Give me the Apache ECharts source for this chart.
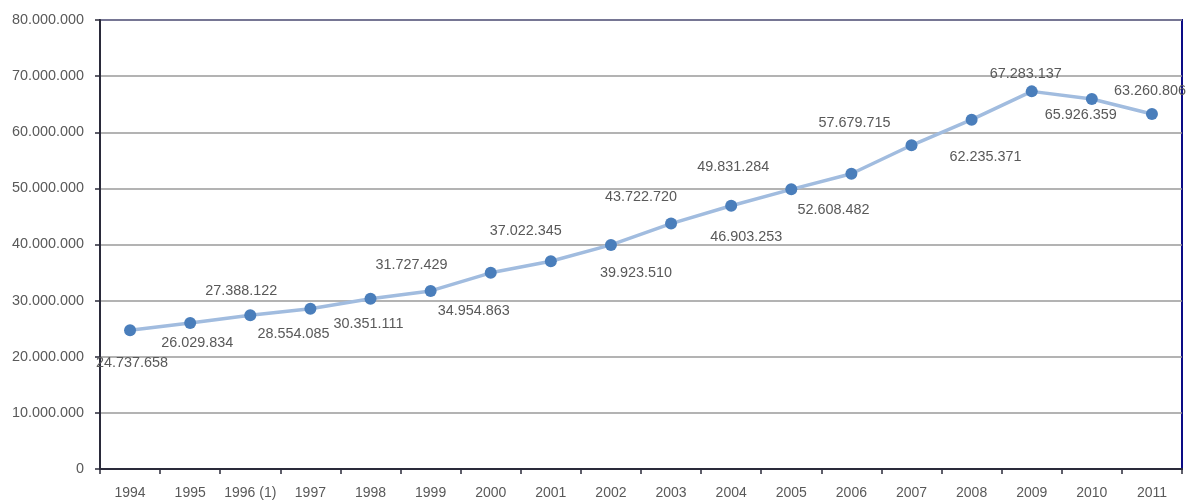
<!DOCTYPE html>
<html>
<head>
<meta charset="utf-8">
<script src="https://cdn.jsdelivr.net/npm/echarts@6/dist/echarts.min.js"></script>
<style>html,body{margin:0;padding:0;background:#fff}#c{width:1187px;height:500px}</style>
</head>
<body>
<div id="c"></div>
<script>
const categories = ['1994','1995','1996 (1)','1997','1998','1999','2000','2001','2002','2003','2004','2005','2006','2007','2008','2009','2010','2011'];
const values = [24737658,26029834,27388122,28554085,30351111,31727429,34954863,37022345,39923510,43722720,46903253,49831284,52608482,57679715,62235371,67283137,65926359,63260806];
const labelOffsets = [[2,33],[7,20],[-9,-24],[-17,25],[-2,25],[-19,-26],[-17,38],[-25,-30],[25,28],[-30,-27],[15,31],[-58,-22],[-18,36],[-57,-22],[14,37],[-6,-17],[-11,16],[-2,-23]];

function fmt(v){ return String(Math.round(v)).replace(/\B(?=(\d{3})+(?!\d))/g,'.'); }
const FONT = '"Liberation Sans", Arial, sans-serif';
const chart = echarts.init(document.getElementById('c'), null, {renderer:'canvas'});
chart.setOption({
  animation:false,
  backgroundColor:'#fff',
  grid:{left:100,right:5,top:20,bottom:31,show:true,borderColor:'#0c0c85',borderWidth:2,backgroundColor:'transparent'},
  xAxis:{
    type:'category', data:categories, boundaryGap:true,
    axisLine:{show:true,lineStyle:{color:'#2a2a3a',width:2}},
    axisTick:{show:true,interval:0,length:5,lineStyle:{color:'#2a2a3a',width:1.5}},
    axisLabel:{interval:0,color:'#595959',fontFamily:FONT,fontSize:14,margin:17}
  },
  yAxis:{
    type:'value', min:0, max:80000000, interval:10000000,
    axisLine:{show:true,lineStyle:{color:'#2a2a3a',width:2}},
    axisTick:{show:true,length:5,lineStyle:{color:'#2a2a3a',width:1.5}},
    splitLine:{show:true,lineStyle:{color:'#9a9a9a',width:1.5}},
    axisLabel:{color:'#595959',fontFamily:FONT,fontSize:14.4,margin:16,formatter:fmt}
  },
  series:[{
    type:'line',
    data:values.map((v,i)=>({value:v,label:{offset:labelOffsets[i]}})),
    symbol:'circle', symbolSize:12,
    itemStyle:{color:'#4a7ebb'},
    lineStyle:{color:'#a1bcdf',width:3.5},
    label:{show:true,position:'inside',color:'#595959',fontFamily:FONT,fontSize:14.4,formatter:p=>fmt(p.value)},
    z:3
  }]
});
</script>
</body>
</html>
